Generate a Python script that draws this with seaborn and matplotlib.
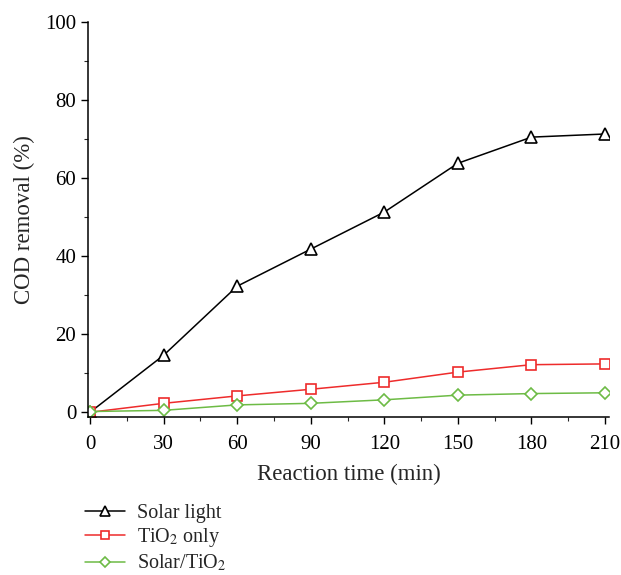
import pandas as pd
import numpy as np
import matplotlib
matplotlib.use("Agg")
import matplotlib.pyplot as plt
import seaborn as sns
from matplotlib.ticker import MultipleLocator

# values
time_min = [0, 30, 60, 90, 120, 150, 180, 210]
solar_light = [0.0, 14.6, 32.3, 41.8, 51.3, 63.8, 70.5, 71.3]
tio2_only = [0.0, 2.3, 4.2, 5.9, 7.7, 10.3, 12.2, 12.4]
solar_tio2 = [0.2, 0.5, 1.9, 2.3, 3.2, 4.4, 4.8, 5.0]

labels = ["Solar light", "TiO$_2$ only", "Solar/TiO$_2$"]
colors = {labels[0]: "black", labels[1]: "#ee2b2b", labels[2]: "#6dbb45"}
markers = {labels[0]: "^", labels[1]: "s", labels[2]: "D"}
sizes = {labels[0]: 8.5, labels[1]: 6.8, labels[2]: 6.5}

df = pd.concat([
    pd.DataFrame({"time": time_min, "cod": vals, "series": lab})
    for lab, vals in zip(labels, [solar_light, tio2_only, solar_tio2])
])

sns.set_style("ticks")
plt.rcParams["font.family"] = ["Liberation Serif", "DejaVu Serif"]
plt.rcParams["mathtext.fontset"] = "stix"

fig = plt.figure(figsize=(6.21, 5.75), dpi=100)
ax = fig.add_axes([0.1417, 0.2748, 0.839, 0.687])

for lab in labels:
    sub = df[df["series"] == lab]
    sns.lineplot(data=sub, x="time", y="cod", ax=ax, color=colors[lab],
                 marker=markers[lab], markersize=sizes[lab],
                 markerfacecolor="white", markeredgecolor=colors[lab],
                 markeredgewidth=1.2, linewidth=1.1, label=lab, legend=False)

ax.set_xlim(-0.8, 211.6)
ax.set_ylim(-1.2, 100)
ax.xaxis.set_major_locator(MultipleLocator(30))
ax.xaxis.set_minor_locator(MultipleLocator(15))
ax.yaxis.set_major_locator(MultipleLocator(20))
ax.yaxis.set_minor_locator(MultipleLocator(10))
ax.tick_params(which="major", direction="out", length=5, width=1, labelsize=15, colors="black")
ax.tick_params(which="minor", direction="out", length=3, width=0.8)
ax.tick_params(axis="x", which="major", pad=8)
ax.spines["top"].set_visible(False)
ax.spines["right"].set_visible(False)
for s in ["left", "bottom"]:
    ax.spines[s].set_linewidth(1.1)
    ax.spines[s].set_color("black")
ax.set_xlabel("Reaction time (min)", fontsize=16.5, labelpad=7)
ax.set_ylabel("COD removal (%)", fontsize=16.5, labelpad=7)

handles, hl = ax.get_legend_handles_labels()
fig.legend(handles, hl, loc="upper left", bbox_to_anchor=(0.124, 0.138),
           frameon=False, fontsize=14.5, handlelength=2.0, handletextpad=0.6,
           labelspacing=0.18, borderaxespad=0, markerscale=0.85)

fig.savefig("out.png", dpi=100)
